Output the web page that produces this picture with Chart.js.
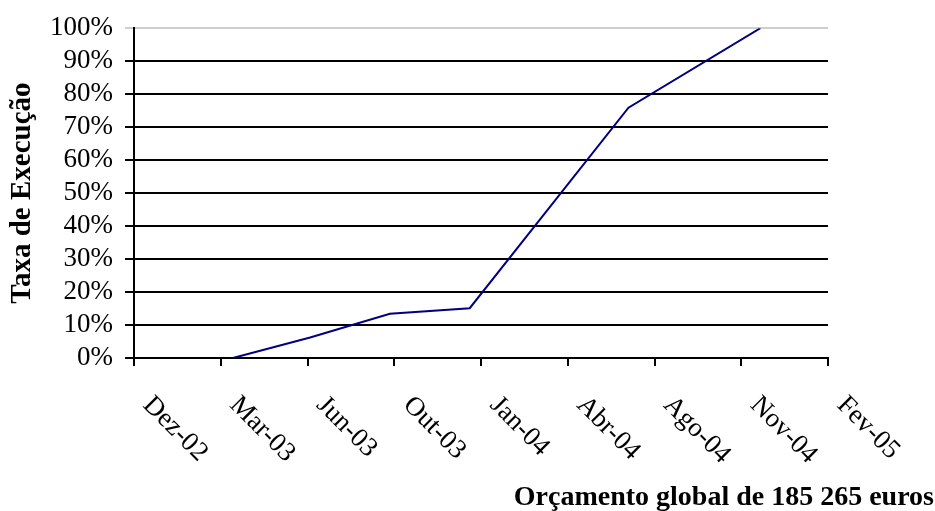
<!DOCTYPE html>
<html lang="pt">
<head>
<meta charset="utf-8">
<title>Taxa de Execução</title>
<script src="https://cdn.jsdelivr.net/npm/chart.js@4/dist/chart.umd.min.js"></script>
<style>
  html, body { margin: 0; padding: 0; background: #fff; }
  #wrap { width: 935px; height: 511px; }
</style>
</head>
<body>
<div id="wrap"><canvas id="chart" width="935" height="511"></canvas></div>
<script>
// Quarterly axis marks (one label per axis period)
const periodLabels = ['Dez-02', 'Mar-03', 'Jun-03', 'Out-03', 'Jan-04', 'Abr-04', 'Ago-04', 'Nov-04', 'Fev-05'];

// Execution curve: position along the axis (in periods from Dez-02) and cumulative execution rate (%)
const progressPos  = [1.14, 2.03, 2.95, 3.87, 5.70, 7.22];
const progressRate = [0, 6.2, 13.4, 15.1, 75.9, 100];

// Percentage scale
const rateMin = 0;
const rateMax = 100;
const rateStep = 10;

const yTitle = 'Taxa de Execução';
const footerText = 'Orçamento global de 185 265 euros';

const serif = '"Liberation Serif", "Times New Roman", serif';

Chart.defaults.color = '#000';
Chart.defaults.font.family = serif;

const points = progressPos.map((p, i) => ({ x: p, y: progressRate[i] }));

// Rotated period labels under the axis plus the budget caption
const periodLabelPlugin = {
  id: 'periodLabels',
  afterDraw(chart) {
    const { ctx, scales } = chart;
    const xs = scales.x;
    const axisY = chart.chartArea.bottom;
    ctx.save();
    ctx.fillStyle = '#000';
    ctx.font = '27px ' + serif;
    ctx.textAlign = 'left';
    ctx.textBaseline = 'alphabetic';
    periodLabels.forEach((lab, i) => {
      const px = xs.getPixelForValue(i);
      ctx.save();
      ctx.translate(px + 8, axisY + 48);
      ctx.rotate(Math.PI / 4);
      ctx.fillText(lab, 0, 0);
      ctx.restore();
    });
    ctx.font = 'bold 28px ' + serif;
    ctx.textAlign = 'right';
    ctx.fillText(footerText, chart.width - 1, 505);
    ctx.restore();
  }
};

new Chart(document.getElementById('chart'), {
  type: 'line',
  data: {
    datasets: [{
      data: points,
      borderColor: '#000080',
      borderWidth: 2,
      pointRadius: 0,
      tension: 0,
      fill: false
    }]
  },
  options: {
    responsive: false,
    animation: false,
    layout: { padding: { top: 25, right: 107, bottom: 0, left: 0 } },
    plugins: {
      legend: { display: false },
      tooltip: { enabled: false }
    },
    scales: {
      x: {
        type: 'linear',
        min: 0,
        max: periodLabels.length - 1,
        ticks: { display: false, stepSize: 1 },
        grid: {
          display: true,
          drawOnChartArea: false,
          drawTicks: true,
          tickLength: 8,
          color: '#000',
          lineWidth: 2
        },
        border: { display: true, color: '#000', width: 2 },
        afterFit(scale) { scale.height = 153; }
      },
      y: {
        min: rateMin,
        max: rateMax,
        ticks: {
          stepSize: rateStep,
          autoSkip: false,
          padding: 12,
          font: { size: 27 },
          callback: v => v + '%'
        },
        grid: {
          drawTicks: true,
          tickLength: 9,
          lineWidth: 2,
          color: ctx => (ctx.tick && ctx.tick.value === rateMax) ? '#cfcfcf' : '#000'
        },
        border: { display: true, color: '#000', width: 2 },
        title: {
          display: true,
          text: yTitle,
          font: { size: 29, weight: 'bold' },
          padding: { top: 5, bottom: 0 }
        },
        afterFit(scale) { scale.width = 134; }
      }
    }
  },
  plugins: [periodLabelPlugin]
});
</script>
</body>
</html>
